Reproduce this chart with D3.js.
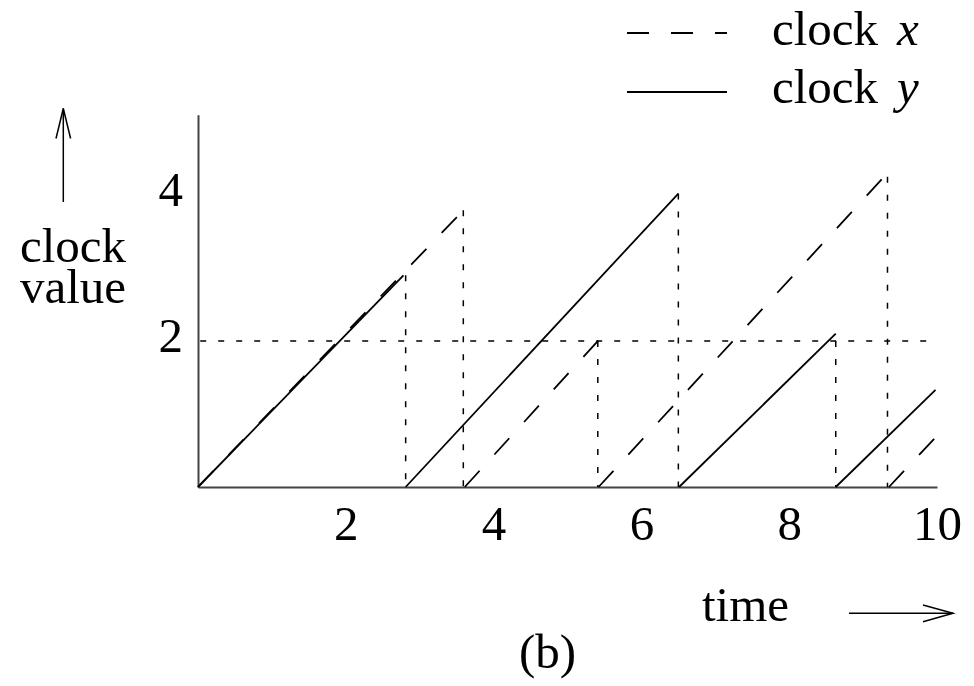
<!DOCTYPE html>
<html>
<head>
<meta charset="utf-8">
<script src="https://cdn.jsdelivr.net/npm/d3@7"></script>
<style>
  html, body { margin: 0; padding: 0; background: #fff; }
  svg { display: block; }
  text { font-family: "Liberation Serif", "Times New Roman", serif; fill: #000; }
</style>
</head>
<body>
<svg id="chart" width="974" height="686"></svg>
<script>
// Clock x (dashed): each run starts at 0 and climbs until it is reset
const clockX = [
  [[0, 0], [3.59, 3.79]],
  [[3.61, 0], [5.43, 2.02]],
  [[5.42, 0], [9.33, 4.30]],
  [[9.35, 0], [10.0, 0.70]]
];
// Clock y (solid)
const clockY = [
  [[0, 0], [2.78, 2.90]],
  [[2.81, 0], [6.50, 4.02]],
  [[6.51, 0], [8.63, 2.10]],
  [[8.63, 0], [9.98, 1.33]]
];
// Reset instants (dotted verticals) and the value each vertical reaches
const resetTimes = [2.81, 3.59, 5.41, 6.50, 8.63, 9.33];
const resetTops  = [2.90, 3.79, 2.00, 4.02, 2.00, 4.25];
// Threshold level (dotted horizontal)
const threshold = 2;
const thresholdEnd = 9.9;

const xTicks = [2, 4, 6, 8, 10];
const yTicks = [2, 4];
const legendWords = ["clock", "clock"];
const legendVars = ["x", "y"];
const yCaption = ["clock", "value"];

const svg = d3.select("#chart");
const FS = 49;

const x = d3.scaleLinear().domain([0, 10]).range([198, 937]);
const y = d3.scaleLinear().domain([0, 5.1]).range([487, 114.7]);

const line = d3.line().x(d => x(d[0])).y(d => y(d[1]));

// Axes
const gx = svg.append("g").attr("transform", `translate(0,${y(0)})`)
  .call(d3.axisBottom(x).tickValues(xTicks).tickFormat(d3.format("d"))
    .tickSize(0).tickSizeOuter(0));
gx.select(".domain").attr("stroke", "#444").attr("stroke-width", 2);
gx.selectAll(".tick text")
  .attr("y", 53).attr("dy", 0)
  .style("font-size", FS + "px")
  .style("font-family", "'Liberation Serif', serif")
  .attr("fill", "#000");

const gy = svg.append("g").attr("transform", `translate(${x(0)},0)`)
  .call(d3.axisLeft(y).tickValues(yTicks).tickFormat(d3.format("d"))
    .tickSize(0).tickSizeOuter(0).tickPadding(15));
gy.select(".domain").attr("stroke", "#444").attr("stroke-width", 2);
gy.selectAll(".tick text")
  .attr("dy", "0.22em")
  .style("font-size", FS + "px")
  .style("font-family", "'Liberation Serif', serif")
  .attr("fill", "#000");

// Dotted guides
const dotted = svg.append("g")
  .attr("stroke", "#000").attr("stroke-width", 1.5)
  .attr("stroke-dasharray", "6,12").attr("fill", "none");
dotted.append("path")
  .attr("d", line([[0.03, threshold], [thresholdEnd, threshold]]));
dotted.selectAll("path.reset")
  .data(resetTimes)
  .join("path")
  .attr("class", "reset")
  .attr("d", (t, i) => line([[t, resetTops[i]], [t, 0]]));

// Clock runs
svg.append("g").selectAll("path")
  .data(clockY)
  .join("path")
  .attr("d", line)
  .attr("fill", "none").attr("stroke", "#000").attr("stroke-width", 1.8);

svg.append("g").selectAll("path")
  .data(clockX)
  .join("path")
  .attr("d", line)
  .attr("fill", "none").attr("stroke", "#000").attr("stroke-width", 1.8)
  .attr("stroke-dasharray", "22,22");

// Legend
const legend = svg.append("g");
const legendRows = [
  { ly: 33, ty: 45, dash: "22,22" },
  { ly: 92, ty: 103, dash: null }
];
legendRows.forEach((r, i) => {
  legend.append("line")
    .attr("x1", 627).attr("x2", 727).attr("y1", r.ly).attr("y2", r.ly)
    .attr("stroke", "#000").attr("stroke-width", 1.8)
    .attr("stroke-dasharray", r.dash);
  const t = legend.append("text")
    .attr("x", 772).attr("y", r.ty)
    .style("font-size", FS + "px");
  t.append("tspan").text(legendWords[i]);
  t.append("tspan").attr("x", 897).style("font-style", "italic").text(legendVars[i]);
});

// Axis captions and arrows
const ink = svg.append("g").attr("stroke", "#000").attr("stroke-width", 1.5).attr("fill", "none");
ink.append("line").attr("x1", 63.3).attr("y1", 202).attr("x2", 63.3).attr("y2", 108.5);
ink.append("path").attr("d", "M56,138.5 L63.3,108.5 L70.6,138.5");
ink.append("line").attr("x1", 849).attr("y1", 613.3).attr("x2", 953).attr("y2", 613.3);
ink.append("path").attr("d", "M923,605 L953,613.3 L923,621.7");

// Two-line caption for the value axis
const cap = svg.append("text").attr("y", 262).style("font-size", FS + "px");
cap.selectAll("tspan")
  .data(yCaption)
  .join("tspan")
  .attr("x", 20)
  .attr("dy", (d, i) => i === 0 ? 0 : 41)
  .text(d => d);

svg.append("text").attr("x", 702).attr("y", 621).style("font-size", FS + "px").text("time");
svg.append("text").attr("x", 547.5).attr("y", 668).attr("text-anchor", "middle")
  .style("font-size", FS + "px").text("(b)");
</script>
</body>
</html>
